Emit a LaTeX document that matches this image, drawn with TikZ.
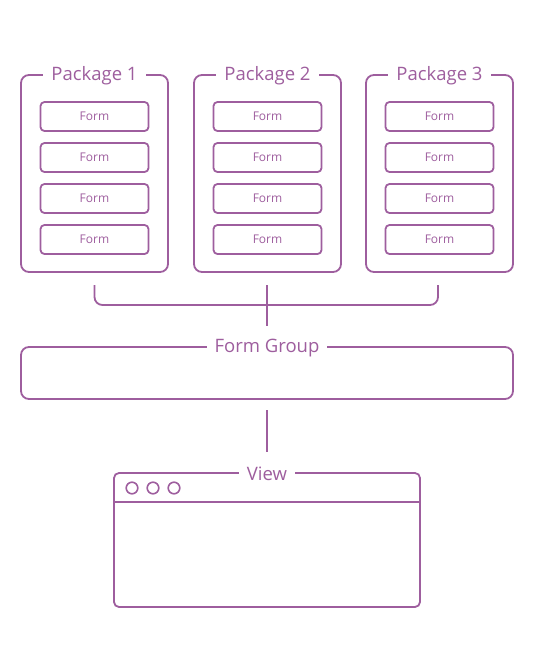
\documentclass[tikz,border=0pt]{standalone}
\usepackage{fontspec}
\setmainfont{Open Sans}
\definecolor{pur}{RGB}{158,94,158}
\begin{document}
\begin{tikzpicture}[x=1pt,y=-1pt,line width=1.8pt,
  box/.style={draw=pur,rounded corners=8pt},
  formbox/.style={draw=pur,rounded corners=4pt,minimum width=108pt,minimum height=29pt,inner sep=0pt,text=pur,font=\fontsize{12}{14}\selectfont},
  title/.style={fill=white,text=pur,inner xsep=8pt,inner ysep=2pt,font=\fontsize{18.5}{21}\selectfont},
  conn/.style={draw=pur}]
\useasboundingbox (0,0) rectangle (534,670);
% packages
\foreach \i/\x in {1/94.5,2/267.5,3/439.5}{
  \draw[box] (\x-73.5,75) rectangle (\x+73.5,272);
  \node[title] (p\i) at (\x,76) {Package \i};
  \foreach \j/\y in {1/116.5,2/157.5,3/198.5,4/239.5}{
    \node[formbox] (f\i\j) at (\x,\y) {Form};
  }
}
% bracket
\coordinate (b1) at (94.5,285);
\coordinate (b3) at (438,285);
\coordinate (bc) at (267,285);
\coordinate (bd) at (267,326);
\draw[conn,rounded corners=8pt] (b1) -- (94.5,305) -- (438,305) -- (b3);
\draw[conn] (bc) -- (bd);
% form group
\draw[box] (21,347) rectangle (513,399);
\node[title] (fg) at (267,348) {Form Group};
% link
\coordinate (l1) at (267,410);
\coordinate (l2) at (267,452);
\draw[conn] (l1) -- (l2);
% view
\draw[box,rounded corners=5pt] (114,473) rectangle (420,607);
\draw[conn] (114,502) -- (420,502);
\node[title] (v) at (267,474) {View};
\foreach \cx in {132,153,174}{
  \draw[pur,line width=1.6pt] (\cx,488) circle (5.8pt);
}
\end{tikzpicture}
\end{document}
